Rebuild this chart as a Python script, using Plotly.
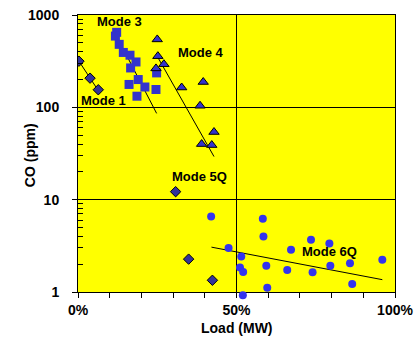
import math
import plotly.graph_objects as go

# Mode 1 (diamonds)
m1_x = [0.3, 3.8, 6.4]
m1_y = [316, 207, 155]
m1_fit_x = [0.3, 6.5]
m1_fit_y = [316, 150]

# Mode 3 (squares)
m3_x = [12.2, 11.8, 13.0, 14.3, 16.4, 18.3, 16.6, 19.0, 16.1, 21.1, 18.6, 24.6, 24.8]
m3_y = [649, 591, 481, 393, 367, 310, 267, 200, 177, 166, 132, 156, 236]
m3_fit_x = [12.3, 24.8]
m3_fit_y = [580, 86]

# Mode 4 (triangles)
m4_x = [25.0, 25.2, 27.1, 24.6, 32.7, 39.5, 38.5, 42.9, 39.0, 42.2]
m4_y = [544, 358, 293, 264, 164, 188, 104, 54, 40, 39]
m4_fit_x = [24.8, 42.9]
m4_fit_y = [367, 29.3]

# Mode 5Q (diamonds)
m5_x = [30.8, 34.9, 42.4]
m5_y = [12.2, 2.27, 1.34]

# Mode 6Q (circles)
m6_x = [42.0, 58.3, 58.5, 47.5, 73.5, 79.3, 67.2, 51.5, 85.8, 96.0,
        51.1, 52.1, 59.4, 66.0, 74.0, 79.6, 86.5, 59.7, 52.0]
m6_y = [6.58, 6.2, 3.99, 2.99, 3.67, 3.35, 2.86, 2.42, 2.05, 2.24,
        1.84, 1.65, 1.93, 1.73, 1.64, 1.93, 1.22, 1.11, 0.92]
m6_fit_x = [42.1, 96.0]
m6_fit_y = [3.06, 1.36]

labels = ["Mode 3", "Mode 1", "Mode 4", "Mode 5Q", "Mode 6Q"]
label_x = [13.2, 7.9, 38.8, 38.3, 79.2]
label_y = [845, 119, 391, 17.8, 2.74]

blue = "#3333CC"
FONT = "Liberation Sans, Arial"

# layout geometry (px)
W, H = 417, 341
M_T, M_B = 15, 40
PLOT_BOTTOM = 292
paper_h = H - M_T - M_B
main_dom0 = (H - M_B - PLOT_BOTTOM) / paper_h
main_span = PLOT_BOTTOM - M_T
y2_low = -3 * (H - M_B - PLOT_BOTTOM) / main_span

fig = go.Figure()
fig.add_shape(type="rect", xref="x domain", yref="y domain", x0=0, x1=1, y0=0, y1=1,
              fillcolor="#FFFF00", line=dict(width=0), layer="below")

line_style = dict(color="black", width=1)
for fx, fy in [(m1_fit_x, m1_fit_y), (m3_fit_x, m3_fit_y), (m4_fit_x, m4_fit_y), (m6_fit_x, m6_fit_y)]:
    fig.add_trace(go.Scatter(x=fx, y=fy, mode="lines", line=line_style, hoverinfo="skip"))

fig.add_trace(go.Scatter(x=m1_x, y=m1_y, mode="markers",
                         marker=dict(symbol="diamond", size=8, color="#333399", line=dict(color="black", width=1))))
fig.add_trace(go.Scatter(x=m3_x, y=m3_y, mode="markers",
                         marker=dict(symbol="square", size=9, color=blue, line=dict(width=0))))
fig.add_trace(go.Scatter(x=m4_x, y=m4_y, mode="markers",
                         marker=dict(symbol="triangle-up", size=9, color=blue, line=dict(color="black", width=1))))
fig.add_trace(go.Scatter(x=m5_x, y=m5_y, mode="markers",
                         marker=dict(symbol="diamond", size=8, color="#333399", line=dict(color="black", width=1))))
fig.add_trace(go.Scatter(x=m6_x, y=m6_y, mode="markers", xaxis="x2", yaxis="y2", cliponaxis=False,
                         marker=dict(symbol="circle", size=8, color="#3333EE", line=dict(width=0))))

for t, lx, ly in zip(labels, label_x, label_y):
    fig.add_annotation(x=lx, y=math.log10(ly), text="<b>%s</b>" % t, showarrow=False,
                       font=dict(family=FONT, size=13, color="black"))

fig.add_annotation(xref="paper", yref="paper", x=-0.151, y=(H - M_B - 155) / paper_h,
                   xanchor="center", yanchor="middle",
                   text="<b>CO (ppm)</b>", textangle=-90,
                   showarrow=False, font=dict(family=FONT, size=14, color="black"))
fig.add_annotation(xref="paper", yref="paper", x=0.5, y=(H - M_B - 328) / paper_h,
                   xanchor="center", yanchor="middle",
                   text="<b>Load (MW)</b>",
                   showarrow=False, font=dict(family=FONT, size=14, color="black"))

minor_y = [m * 10 ** e for e in range(3) for m in range(2, 10)]

fig.update_layout(
    width=W, height=H,
    margin=dict(l=78, r=22, t=M_T, b=M_B, autoexpand=False),
    paper_bgcolor="white", plot_bgcolor="rgba(0,0,0,0)",
    showlegend=False,
    font=dict(family=FONT, size=14, color="black"),
    xaxis=dict(range=[0, 100], tickvals=[0, 50, 100], ticktext=["<b>0%</b>", "<b>50%</b>", "<b>100%</b>"],
               anchor="y",
               showgrid=True, gridcolor="black", gridwidth=1, zeroline=False, automargin=False,
               showline=True, mirror=True, linecolor="black", linewidth=1,
               ticks="outside", ticklen=5, tickcolor="black",
               minor=dict(tickvals=[10, 20, 30, 40, 60, 70, 80, 90], ticks="outside", ticklen=5,
                          tickcolor="black", showgrid=False)),
    yaxis=dict(type="log", range=[0, 3], tickvals=[1, 10, 100, 1000], domain=[main_dom0, 1],
               ticktext=["<b>1</b>", "<b>10</b>", "<b>100</b>", "<b>1000</b>"],
               anchor="x",
               showgrid=True, gridcolor="black", gridwidth=1, zeroline=False, automargin=False,
               showline=True, mirror=True, linecolor="black", linewidth=1,
               ticks="outside", ticklen=5, tickcolor="black", ticklabelstandoff=10,
               minor=dict(tickvals=minor_y, ticks="inside", ticklen=5, tickcolor="black", showgrid=False)),
    xaxis2=dict(range=[0, 100], anchor="y2", visible=False, showgrid=False, zeroline=False),
    yaxis2=dict(type="log", range=[y2_low, 3], domain=[0, 1], anchor="x2", visible=False,
                showgrid=False, zeroline=False),
)

fig.write_html("out.html")
